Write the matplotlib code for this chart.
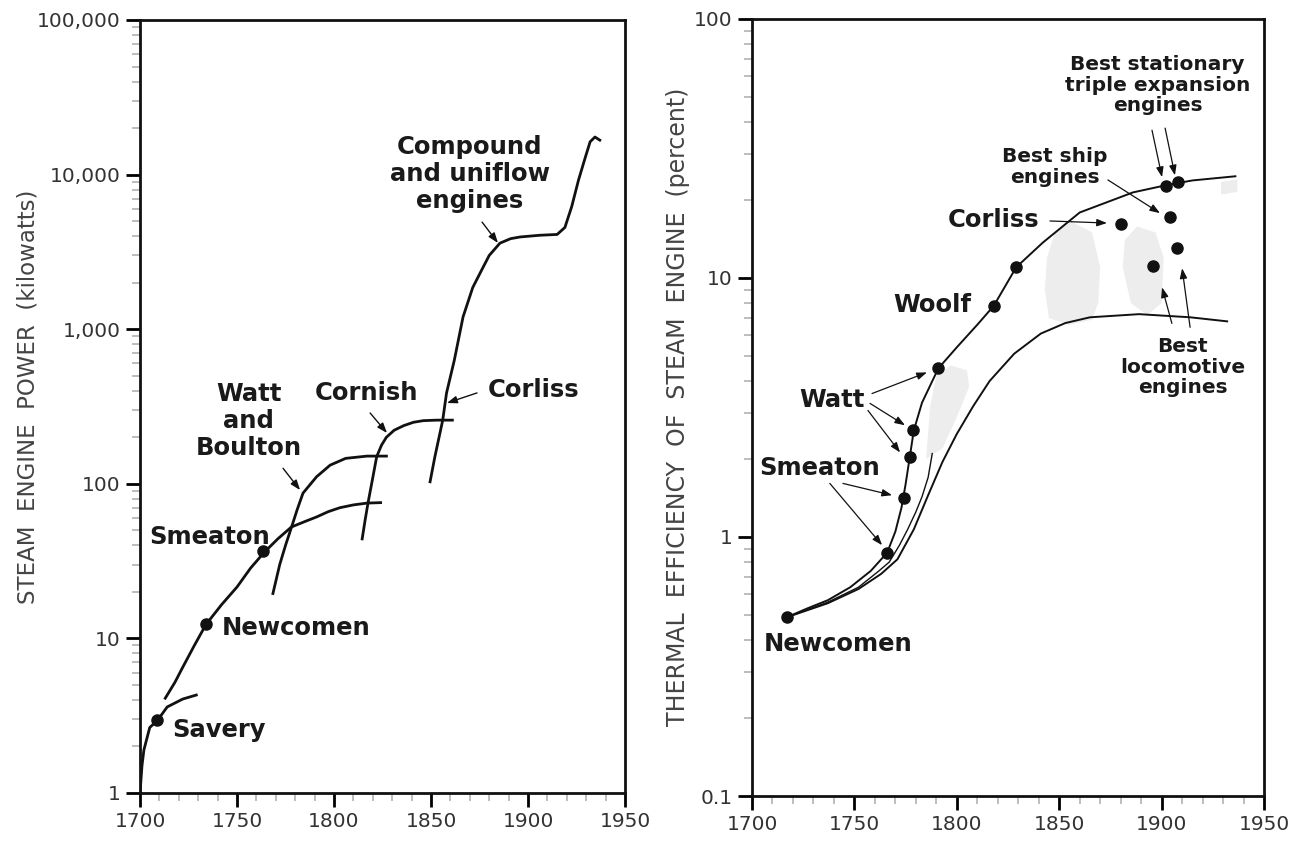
import matplotlib.pyplot as plt
from matplotlib.ticker import MultipleLocator, LogLocator, FuncFormatter, NullFormatter

# ---------------- left panel: steam engine power (kW) ----------------
savery_year = [1700, 1701, 1702, 1705, 1709, 1714, 1722, 1729]
savery_kw = [1.0, 1.5, 1.9, 2.65, 2.95, 3.6, 4.05, 4.3]

newcomen_year = [1713, 1718, 1722, 1728, 1734, 1742, 1750, 1757, 1764, 1771,
                 1778, 1785, 1791, 1797, 1803, 1810, 1817, 1824]
newcomen_kw = [4.1, 5.2, 6.5, 9.0, 12.3, 16.5, 21.5, 28.5, 36, 44,
               52.5, 57, 61, 66, 70, 73, 75, 75.5]

watt_year = [1768.5, 1772, 1775, 1778, 1781, 1784, 1791, 1798, 1806, 1817, 1827]
watt_kw = [19.5, 30, 40, 52, 68, 87, 111, 132, 146, 151, 151]

cornish_year = [1814.5, 1816, 1817.5, 1820, 1822, 1824.5, 1827, 1831, 1836,
                1841, 1846, 1853, 1861]
cornish_kw = [44, 58, 75, 110, 150, 178, 200, 222, 238, 250, 256, 258, 258]

compound_year = [1849.5, 1852, 1856, 1858, 1862, 1866.5, 1871.5, 1876, 1880,
                 1885.5, 1891, 1896, 1906, 1915, 1919, 1922.5, 1926, 1929.5,
                 1932, 1934.5, 1937]
compound_kw = [103, 150, 257, 387, 630, 1200, 1860, 2400, 3000, 3600, 3850,
               3950, 4050, 4100, 4550, 6200, 9200, 12900, 16300, 17500, 16700]

power_dot_year = [1709, 1734, 1763.5]
power_dot_kw = [2.95, 12.3, 37]

power_ticks = [1, 10, 100, 1000, 10000, 100000]

# ---------------- right panel: thermal efficiency (%) ----------------
upper_year = [1717, 1727, 1737, 1748, 1758, 1766, 1770, 1773, 1775, 1777, 1779,
              1783, 1791, 1800, 1810, 1818, 1829, 1842, 1860, 1886, 1902, 1915, 1936]
upper_pct = [0.49, 0.53, 0.57, 0.64, 0.74, 0.87, 1.05, 1.3, 1.6, 2.03, 2.58,
             3.3, 4.48, 5.4, 6.6, 7.8, 11.0, 13.7, 17.9, 21.4, 22.8, 23.8, 24.7]

middle_year = [1717, 1737, 1752, 1762, 1767, 1772, 1776, 1780, 1783, 1786, 1788]
middle_pct = [0.49, 0.56, 0.64, 0.74, 0.80, 0.93, 1.07, 1.25, 1.43, 1.7, 2.1]

lower_year = [1717, 1737, 1752, 1763, 1771, 1779, 1786, 1793, 1800, 1808, 1816,
              1828, 1841, 1853, 1865, 1889, 1914, 1932]
lower_pct = [0.49, 0.555, 0.63, 0.72, 0.82, 1.07, 1.45, 1.95, 2.5, 3.2, 4.0,
             5.1, 6.1, 6.7, 7.05, 7.25, 7.05, 6.8]

eff_dot_year = [1717, 1766, 1774, 1777, 1778.6, 1791, 1818, 1829, 1880,
                1902, 1908, 1904, 1907.5, 1896]
eff_dot_pct = [0.49, 0.87, 1.42, 2.03, 2.58, 4.48, 7.8, 11.0, 16.1,
               22.6, 23.4, 17.2, 13.1, 11.1]

# stippled grey ranges
shade_a_year = [1785, 1787, 1790, 1797, 1805, 1806, 1800, 1793]
shade_a_pct = [2.0, 3.2, 4.2, 4.6, 4.4, 3.8, 2.9, 2.2]
shade_b_year = [1845, 1843, 1844, 1848, 1856, 1866, 1870, 1869, 1866, 1855]
shade_b_pct = [7.0, 9.0, 12.0, 15.0, 16.5, 15.0, 11.0, 8.0, 6.9, 6.6]
shade_c_year = [1882, 1888, 1897, 1901, 1900, 1893, 1885, 1881]
shade_c_pct = [14.0, 15.8, 15.0, 12.0, 8.0, 7.2, 8.0, 11.0]
shade_d_year = [1929, 1929, 1937, 1937]
shade_d_pct = [21.0, 23.5, 24.0, 21.5]

eff_ticks = [0.1, 1, 10, 100]

INK = '#111111'
TICK = '#333333'

fig = plt.figure(figsize=(12.93, 8.47), dpi=100)
ax1 = fig.add_axes([0.1083, 0.0638, 0.3751, 0.9126])
ax2 = fig.add_axes([0.5816, 0.0602, 0.396, 0.9174])

for ax in (ax1, ax2):
    ax.set_yscale('log')
    ax.set_xlim(1700, 1950)
    ax.set_xticks(range(1700, 1951, 50))
    ax.xaxis.set_minor_locator(MultipleLocator(10))
    ax.yaxis.set_minor_locator(LogLocator(base=10, subs=range(2, 10)))
    ax.yaxis.set_minor_formatter(NullFormatter())
    ax.tick_params(which='major', direction='out', length=10, width=2.0,
                   labelsize=14.5, labelcolor=TICK, pad=4)
    ax.tick_params(which='minor', direction='out', length=6, width=1.3,
                   color='#b8b8b8')
    for s in ax.spines.values():
        s.set_linewidth(2.0)
        s.set_color(INK)

# ---------- left ----------
ax1.set_ylim(1, 100000)
ax1.set_yticks(power_ticks)
ax1.yaxis.set_major_formatter(FuncFormatter(lambda v, p: f'{int(round(v)):,}'))

lw1 = 2.0
ax1.plot(savery_year, savery_kw, color=INK, lw=lw1)
ax1.plot(newcomen_year, newcomen_kw, color=INK, lw=lw1)
ax1.plot(watt_year, watt_kw, color=INK, lw=lw1)
ax1.plot(cornish_year, cornish_kw, color=INK, lw=lw1)
ax1.plot(compound_year, compound_kw, color=INK, lw=lw1)
ax1.plot(power_dot_year, power_dot_kw, 'o', color=INK, ms=8)

bold = dict(fontsize=17.5, fontweight='bold', color='#1a1a1a', linespacing=1.15)
arrow = dict(arrowstyle='-|>,head_length=0.6,head_width=0.22', lw=1.0,
             color=INK, shrinkA=0, shrinkB=0)

ax1.text(1716.5, 2.56, 'Savery', ha='left', va='center', **bold)
ax1.text(1742.3, 11.7, 'Newcomen', ha='left', va='center', **bold)
ax1.text(1736, 45, 'Smeaton', ha='center', va='center', **bold)
ax1.text(1756, 255, 'Watt\nand\nBoulton', ha='center', va='center', **bold)
ax1.text(1816.5, 387, 'Cornish', ha='center', va='center', **bold)
ax1.text(1903, 404, 'Corliss', ha='center', va='center', **bold)
ax1.text(1870, 10100, 'Compound\nand uniflow\nengines', ha='center', va='center', **bold)

ax1.annotate('', xy=(1782.5, 91), xytext=(1773.7, 126), arrowprops=arrow)
ax1.annotate('', xy=(1827.3, 213), xytext=(1818.6, 287), arrowprops=arrow)
ax1.annotate('', xy=(1858.2, 333), xytext=(1873.7, 387), arrowprops=arrow)
ax1.annotate('', xy=(1884.5, 3610), xytext=(1876.3, 4930), arrowprops=arrow)

fig.text(0.022, 0.532, 'STEAM  ENGINE  POWER  (kilowatts)', rotation=90,
         ha='center', va='center', fontsize=16.5, color='#444444')

# ---------- right ----------
ax2.set_ylim(0.1, 100)
ax2.set_yticks(eff_ticks)
ax2.yaxis.set_major_formatter(FuncFormatter(lambda v, p: f'{v:g}'))

for xs, ys in ((shade_a_year, shade_a_pct), (shade_b_year, shade_b_pct),
               (shade_c_year, shade_c_pct), (shade_d_year, shade_d_pct)):
    ax2.fill(xs, ys, color='#ededed', lw=0, zorder=0)

lw2 = 1.4
ax2.plot(upper_year, upper_pct, color=INK, lw=lw2)
ax2.plot(middle_year, middle_pct, color=INK, lw=1.0)
ax2.plot(lower_year, lower_pct, color=INK, lw=lw2)
ax2.plot(eff_dot_year, eff_dot_pct, 'o', color=INK, ms=8)

small = dict(bold, fontsize=14.5, linespacing=1.1)
ax2.text(1742, 0.387, 'Newcomen', ha='center', va='center', **bold)
ax2.text(1733, 1.84, 'Smeaton', ha='center', va='center', **bold)
ax2.text(1739, 3.37, 'Watt', ha='center', va='center', **bold)
ax2.text(1788, 7.84, 'Woolf', ha='center', va='center', **bold)
ax2.text(1817.7, 16.7, 'Corliss', ha='center', va='center', **bold)
ax2.text(1848, 26.8, 'Best ship\nengines', ha='center', va='center', **small)
ax2.text(1898, 55.6, 'Best stationary\ntriple expansion\nengines', ha='center',
         va='center', **small)
ax2.text(1910.4, 4.52, 'Best\nlocomotive\nengines', ha='center', va='center', **small)

arrow2 = dict(arrow, lw=0.9)
ax2.annotate('', xy=(1768.4, 1.45), xytext=(1744.4, 1.61), arrowprops=arrow2)
ax2.annotate('', xy=(1763.5, 0.93), xytext=(1738, 1.61), arrowprops=arrow2)
ax2.annotate('', xy=(1785.4, 4.32), xytext=(1758.6, 3.58), arrowprops=arrow2)
ax2.annotate('', xy=(1774.7, 2.70), xytext=(1757.6, 3.28), arrowprops=arrow2)
ax2.annotate('', xy=(1772.3, 2.12), xytext=(1756.6, 3.08), arrowprops=arrow2)
ax2.annotate('', xy=(1873.3, 16.3), xytext=(1845.5, 16.6), arrowprops=arrow2)
ax2.annotate('', xy=(1899.2, 17.8), xytext=(1873.8, 23.9), arrowprops=arrow2)
ax2.annotate('', xy=(1900.2, 24.5), xytext=(1895.3, 37.2), arrowprops=arrow2)
ax2.annotate('', xy=(1906.5, 24.9), xytext=(1901.7, 37.9), arrowprops=arrow2)
ax2.annotate('', xy=(1910, 10.9), xytext=(1913.9, 6.45), arrowprops=arrow2)
ax2.annotate('', xy=(1900.2, 9.2), xytext=(1905, 6.68), arrowprops=arrow2)

fig.text(0.5245, 0.52, 'THERMAL  EFFICIENCY  OF  STEAM  ENGINE  (percent)',
         rotation=90, ha='center', va='center', fontsize=17, color='#444444')

fig.savefig('out.png', dpi=100)
